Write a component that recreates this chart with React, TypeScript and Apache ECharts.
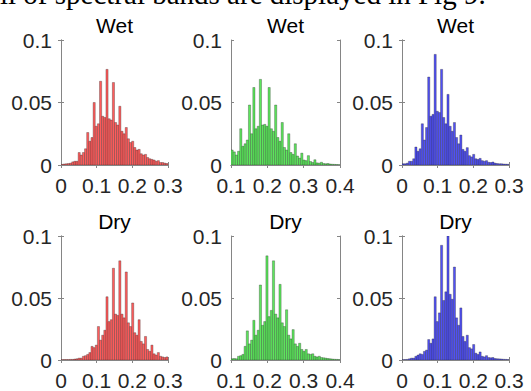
import React, { useEffect, useRef } from "react";
import * as echarts from "echarts";

// Histogram bin heights (probability), 50 bins per panel
const redWet = [0.0005,0.0008,0.001,0.0012,0.0015,0.0025,0.003,0.003,0.010,0.008,
0.010,0.013,0.026,0.019,0.022,0.050,0.031,0.033,0.067,0.039,
0.038,0.0765,0.037,0.036,0.066,0.034,0.032,0.047,0.027,0.025,
0.030,0.021,0.018,0.019,0.014,0.012,0.0125,0.009,0.008,0.0085,
0.006,0.005,0.0045,0.004,0.003,0.0035,0.002,0.002,0.0015,0.0012];

const greenWet = [0.012,0.0105,0.008,0.011,0.029,0.015,0.017,0.020,0.048,0.025,
0.062,0.029,0.031,0.0685,0.032,0.0325,0.031,0.062,0.029,0.027,
0.048,0.022,0.019,0.034,0.014,0.012,0.025,0.010,0.0085,0.017,
0.0072,0.0055,0.0095,0.004,0.0035,0.0075,0.0028,0.002,0.0042,0.0017,
0.0015,0.0022,0.0012,0.001,0.0012,0.0008,0.0006,0.0005,0.0004,0.0003];

const blueWet = [0.001,0.001,0.0015,0.003,0.003,0.005,0.0144,0.011,0.013,0.033,
0.020,0.030,0.0704,0.039,0.0405,0.0885,0.043,0.042,0.0765,0.038,
0.033,0.0565,0.031,0.027,0.034,0.022,0.017,0.024,0.0125,0.011,
0.0139,0.0075,0.0065,0.0085,0.005,0.0045,0.0053,0.0035,0.003,0.0035,
0.0022,0.002,0.0024,0.0015,0.0012,0.001,0.001,0.0008,0.0007,0.0006];

const redDry = [0.0003,0.0004,0.0004,0.0004,0.0005,0.0005,0.0008,0.001,0.0015,0.0015,
0.003,0.0035,0.0045,0.006,0.011,0.010,0.012,0.027,0.016,0.020,
0.024,0.051,0.031,0.0325,0.074,0.037,0.036,0.080,0.037,0.034,
0.071,0.030,0.027,0.046,0.022,0.020,0.0325,0.015,0.013,0.019,
0.0085,0.007,0.012,0.005,0.004,0.006,0.003,0.0025,0.002,0.0025];

const greenDry = [0.001,0.0012,0.001,0.003,0.0035,0.0045,0.011,0.0235,0.013,0.016,
0.032,0.020,0.024,0.0605,0.028,0.031,0.084,0.035,0.040,0.080,
0.037,0.034,0.061,0.030,0.027,0.0405,0.020,0.017,0.0245,0.013,
0.011,0.0135,0.0085,0.007,0.0085,0.005,0.0045,0.005,0.003,0.0025,
0.003,0.002,0.0018,0.0015,0.0012,0.001,0.0008,0.0006,0.0005,0.0004];

const blueDry = [0.0003,0.0004,0.0005,0.001,0.0015,0.0015,0.003,0.004,0.005,0.0045,
0.007,0.008,0.0165,0.0135,0.017,0.051,0.031,0.038,0.0925,0.048,
0.055,0.100,0.053,0.049,0.075,0.034,0.028,0.042,0.019,0.015,
0.020,0.010,0.009,0.0125,0.0055,0.0045,0.0065,0.003,0.0025,0.0035,
0.002,0.0018,0.002,0.0012,0.001,0.0009,0.0008,0.0006,0.0005,0.0004];

const titles = ["Wet", "Wet", "Wet", "Dry", "Dry", "Dry"];
const xMins = [0, 0.1, 0, 0, 0.1, 0];
const xMaxs = [0.3, 0.4, 0.3, 0.3, 0.4, 0.3];
const BIN_WIDTH = 0.006;
const headerText = "ll of spectral bands are displayed in Fig 9.";

const panelData = [redWet, greenWet, blueWet, redDry, greenDry, blueDry];
const fills = ["#ff5c5c", "#5ce65c", "#5050f5", "#ff5c5c", "#5ce65c", "#5050f5"];

const grids = [
  { left: 61, top: 40, width: 107, height: 125 },
  { left: 231, top: 40, width: 109, height: 125 },
  { left: 402, top: 40, width: 107, height: 125 },
  { left: 61, top: 236, width: 107, height: 125 },
  { left: 231, top: 236, width: 109, height: 125 },
  { left: 402, top: 236, width: 107, height: 125 },
];

const FONT = "'Liberation Sans', Arial, Helvetica, sans-serif";
const AX = "#858585";

export default function App() {
  const ref = useRef<HTMLDivElement>(null);
  useEffect(() => {
    if (!ref.current) return;
    const chart = echarts.init(ref.current, undefined, { renderer: "svg" });
    const xAxis: any[] = [];
    const yAxis: any[] = [];
    const series: any[] = [];
    const title: any[] = [];
    grids.forEach((g, i) => {
      const fmtX = (v: number) => (Math.abs(v) < 1e-9 ? "0" : v.toFixed(1));
      const fmtY = (v: number) => (Math.abs(v) < 1e-9 ? "0" : String(parseFloat(v.toFixed(2))));
      const common = { min: xMins[i], max: xMaxs[i], interval: 0.1, type: "value", gridIndex: i };
      xAxis.push({
        ...common,
        position: "bottom",
        axisLine: { show: true, lineStyle: { color: AX, width: 1 } },
        axisTick: { show: true, inside: true, length: 3, lineStyle: { color: AX } },
        axisLabel: { show: true, margin: 10, fontSize: 21, fontFamily: FONT, color: "#262626", formatter: fmtX, showMinLabel: true, showMaxLabel: true },
        splitLine: { show: false },
      });
      xAxis.push({
        ...common,
        position: "top",
        axisLine: { show: true, lineStyle: { color: AX, width: 1 } },
        axisTick: { show: true, inside: true, length: 3, lineStyle: { color: AX } },
        axisLabel: { show: false },
        splitLine: { show: false },
      });
      const ycommon = { min: 0, max: 0.1, interval: 0.05, type: "value", gridIndex: i };
      yAxis.push({
        ...ycommon,
        position: "left",
        axisLine: { show: true, lineStyle: { color: AX, width: 1 } },
        axisTick: { show: true, inside: true, length: 3, lineStyle: { color: AX } },
        axisLabel: { show: true, margin: 9, fontSize: 21, fontFamily: FONT, color: "#262626", formatter: fmtY, showMinLabel: true, showMaxLabel: true },
        splitLine: { show: false },
      });
      yAxis.push({
        ...ycommon,
        position: "right",
        axisLine: { show: true, lineStyle: { color: AX, width: 1 } },
        axisTick: { show: true, inside: true, length: 3, lineStyle: { color: AX } },
        axisLabel: { show: false },
        splitLine: { show: false },
      });
      const vals = panelData[i];
      const data = vals.map((v, k) => [xMins[i] + k * BIN_WIDTH, xMins[i] + (k + 1) * BIN_WIDTH, v]);
      const fill = fills[i];
      series.push({
        type: "custom",
        xAxisIndex: 2 * i,
        yAxisIndex: 2 * i,
        clip: true,
        encode: { x: [0, 1], y: 2 },
        data,
        renderItem: (params: any, api: any) => {
          const p0 = api.coord([api.value(0), api.value(2)]);
          const p1 = api.coord([api.value(1), 0]);
          return {
            type: "rect",
            shape: { x: p0[0], y: p0[1], width: p1[0] - p0[0], height: p1[1] - p0[1] },
            style: { fill, stroke: "rgba(30,30,30,0.6)", lineWidth: 0.5 },
          };
        },
      });
      title.push({
        text: titles[i],
        left: g.left + g.width / 2,
        top: g.top - 25,
        textAlign: "center",
        textStyle: { fontSize: 21, fontWeight: "normal", fontFamily: FONT, color: "#000" },
        padding: 0,
      });
    });
    chart.setOption({
      animation: false,
      backgroundColor: "#fff",
      title,
      grid: grids.map((g) => ({ ...g, containLabel: false })),
      xAxis,
      yAxis,
      series,
      graphic: [
        {
          type: "text",
          x: 0,
          y: -6,
          style: {
            text: headerText,
            fontSize: 29,
            fontFamily: "'Liberation Serif', 'Times New Roman', serif",
            fill: "#000",
            textAlign: "left",
            verticalAlign: "middle",
          },
        },
      ],
    });
    return () => chart.dispose();
  }, []);
  return (
    <div
      ref={ref}
      style={{ position: "fixed", left: 0, top: 0, width: 531, height: 391 }}
    />
  );
}
